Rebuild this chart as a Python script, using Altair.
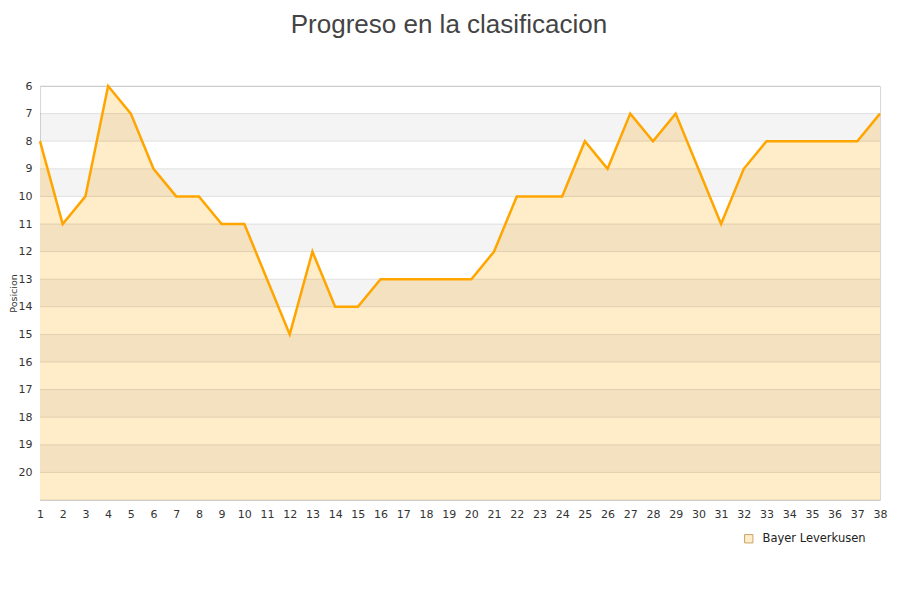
import altair as alt
import pandas as pd

# posiciones por jornada
jornadas = list(range(1, 39))
posiciones = [8, 11, 10, 6, 7, 9, 10, 10, 11, 11, 13, 15, 12, 14, 14, 13, 13, 13, 13, 13,
              12, 10, 10, 10, 8, 9, 7, 8, 7, 9, 11, 9, 8, 8, 8, 8, 8, 7]
equipo = "Bayer Leverkusen"
band_starts = [7, 9, 11, 13, 15, 17, 19]
grid_lines = list(range(6, 22))
y_labels = list(range(6, 21))

df = pd.DataFrame({"jornada": jornadas, "pos": posiciones, "equipo": equipo})
bands = pd.DataFrame({"y0": band_starts, "y1": [b + 1 for b in band_starts]})
grid = pd.DataFrame({"g": grid_lines})

x_scale = alt.Scale(domain=[1, 38], nice=False, zero=False)
y_scale = alt.Scale(domain=[6, 21], reverse=True, nice=False, zero=False)

x_axis = alt.Axis(values=jornadas, title=None, grid=False, ticks=False, domain=False,
                  labelFont="DejaVu Sans", labelFontSize=11, labelColor="#333333",
                  labelPadding=8, labelFlush=False, labelOverlap=False, format="d")
y_axis = alt.Axis(values=y_labels, title="Posicion", grid=False, ticks=False, domain=False,
                  labelFont="DejaVu Sans", labelFontSize=11, labelColor="#333333",
                  labelPadding=8, labelOverlap=False, titleFont="DejaVu Sans",
                  titleFontSize=9.5, titleFontWeight="normal", titleColor="#333333",
                  titleX=-32, titleY=207, titleAngle=270, titleAlign="center",
                  titleBaseline="top")

area = alt.Chart(df).mark_area(opacity=1, interpolate="linear").encode(
    x=alt.X("jornada:Q", scale=x_scale, axis=x_axis),
    y=alt.Y("pos:Q", scale=y_scale, axis=y_axis),
    y2=alt.datum(21),
    color=alt.Color("equipo:N", scale=alt.Scale(range=["#ffecc8"]),
                    legend=alt.Legend(title=None, orient="none", legendX=703, legendY=447,
                                      symbolType="square", symbolSize=70,
                                      symbolStrokeColor="#c9a46a", symbolStrokeWidth=1,
                                      labelFont="DejaVu Sans", labelFontSize=11.5,
                                      labelColor="#222222", labelOffset=8)),
)

band_layer = alt.Chart(bands).mark_rect(color="#000000", opacity=0.045).encode(
    y=alt.Y("y0:Q", scale=y_scale, axis=y_axis),
    y2="y1:Q",
    x=alt.value(0),
    x2=alt.value(840),
)

grid_layer = alt.Chart(grid).mark_rule(color="#000000", opacity=0.1, strokeWidth=1).encode(
    y=alt.Y("g:Q", scale=y_scale, axis=y_axis),
    x=alt.value(0),
    x2=alt.value(840),
)

line = alt.Chart(df).mark_line(color="#ffa500", strokeWidth=2.5).encode(
    x=alt.X("jornada:Q", scale=x_scale, axis=x_axis),
    y=alt.Y("pos:Q", scale=y_scale, axis=y_axis),
)

chart = alt.layer(area, band_layer, grid_layer, line).properties(
    width=840,
    height=414,
    autosize=alt.AutoSizeParams(type="none"),
    padding={"left": 32, "top": 78, "right": 12, "bottom": 92},
    title=alt.TitleParams("Progreso en la clasificacion", font="Liberation Sans", fontSize=26,
                          fontWeight="normal", color="#444444", anchor="middle", dx=-11,
                          offset=42),
).configure_view(stroke="#d8d8d8", strokeWidth=1)

chart.save("out.html", embed_options={"renderer": "svg", "actions": False})
